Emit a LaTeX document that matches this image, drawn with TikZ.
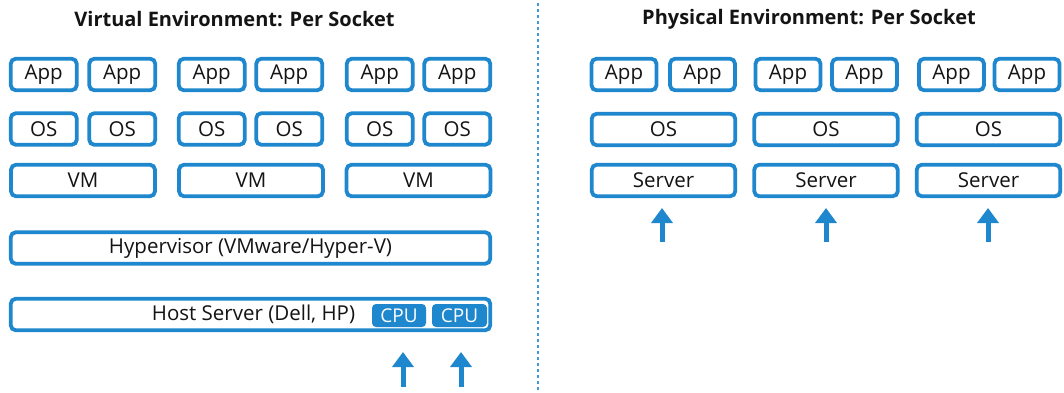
\documentclass[tikz,border=0pt]{standalone}
\usepackage{fontspec}
\setmainfont{Open Sans}
\usetikzlibrary{arrows.meta}
\definecolor{boxblue}{RGB}{30,135,205}
\definecolor{txt}{RGB}{20,20,20}
\begin{document}
\begin{tikzpicture}[x=1pt,y=-1pt,
  box/.style={draw=boxblue, line width=3.8pt, rounded corners=5pt, fill=white,
    inner sep=0pt, minimum height=31.5pt, text=txt, font=\fontsize{20.5}{24}\selectfont},
  appbox/.style={box, minimum width=66pt},
  widebox/.style={box, minimum width=144pt},
  longbox/.style={box, minimum width=479.5pt},
  cpubox/.style={fill=boxblue, rounded corners=4pt, inner sep=0pt, minimum height=23pt,
    minimum width=54pt, text=white, font=\fontsize{19}{22}\selectfont},
  title/.style={font=\fontsize{20}{24}\selectfont\bfseries, text=txt, inner sep=0pt},
  uparrow/.style={draw=boxblue, line width=5pt, -{Triangle[width=21pt,length=15pt]}},
  divider/.style={draw=boxblue!85, line width=1.2pt, dash pattern=on 3pt off 3pt}
]
\useasboundingbox (0,0) rectangle (1064,392);

% titles
\node[title] (tl) at (234.5,19.5) {Virtual Environment: Per Socket};
\node[title] (tr) at (809,19.5) {Physical Environment: Per Socket};

% divider
\coordinate (d1) at (538,3);
\coordinate (d2) at (538,392);
\draw[divider] (d1) -- (d2);

% ---------- virtual side ----------
\foreach \i/\x in {1/43.75,2/122.25,3/211.75,4/289.25,5/379.75,6/457.25}{
  \node[appbox] (vapp\i) at (\x,74.5) {App};
  \node[appbox] (vos\i) at (\x,129) {OS};
}
\foreach \i/\x in {1/83,2/251,3/418.5}{
  \node[widebox] (vm\i) at (\x,180.5) {VM};
}
\node[longbox] (hyp) at (250.5,248) {Hypervisor (VMware/Hyper-V)};
\node[longbox] (host) at (250.5,314.5) {\hspace*{6pt}Host Server (Dell, HP)};
\node[cpubox] (cpu1) at (399,315.5) {CPU};
\node[cpubox, minimum width=55pt] (cpu2) at (459.5,315.5) {CPU};

\coordinate (va1s) at (403,387);
\coordinate (va1e) at (403,352);
\coordinate (va2s) at (461,387);
\coordinate (va2e) at (461,352);
\draw[uparrow] (va1s) -- (va1e);
\draw[uparrow] (va2s) -- (va2e);

% ---------- physical side ----------
\foreach \i/\x in {1/624,2/702.5,3/788,4/864.5,5/951.5,6/1027}{
  \node[appbox, minimum width=65pt] (papp\i) at (\x,74.5) {App};
}
\foreach \i/\x in {1/663.5,2/826,3/988.5}{
  \node[widebox, minimum width=143.5pt] (pos\i) at (\x,129.5) {OS};
  \node[widebox, minimum width=143.5pt] (srv\i) at (\x,180.5) {Server};
}
\foreach \i/\x in {1/662,2/826,3/988}{
  \coordinate (pa\i s) at (\x,242);
  \coordinate (pa\i e) at (\x,208);
  \draw[uparrow] (pa\i s) -- (pa\i e);
}
\end{tikzpicture}
\end{document}
